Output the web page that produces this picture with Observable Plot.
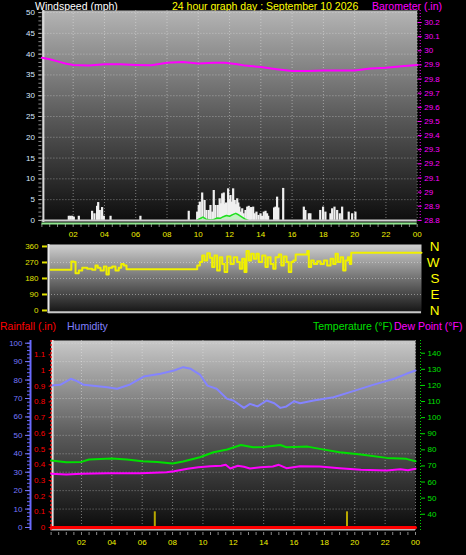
<!DOCTYPE html>
<html><head><meta charset="utf-8">
<script src="https://cdn.jsdelivr.net/npm/d3@7"></script>
<script src="https://cdn.jsdelivr.net/npm/@observablehq/plot@0.6"></script>
<style>
html,body{margin:0;padding:0;background:#000;}
#wrap{position:relative;width:466px;height:555px;overflow:hidden;background:#000;font-family:"Liberation Sans",Arial,sans-serif;}
.lbl{position:absolute;font-size:10.5px;white-space:nowrap;line-height:1;}
</style></head><body>
<svg width="0" height="0" style="position:absolute"><defs>
<linearGradient id="g1" x1="0" y1="0" x2="0" y2="1"><stop offset="0" stop-color="#b4b4b4"/><stop offset="0.5" stop-color="#5a5a5a"/><stop offset="1" stop-color="#0c0c0c"/></linearGradient>
<linearGradient id="g2" x1="0" y1="0" x2="0" y2="1"><stop offset="0" stop-color="#cfcfcf"/><stop offset="1" stop-color="#121212"/></linearGradient>
<linearGradient id="g3" x1="0" y1="0" x2="0" y2="1"><stop offset="0" stop-color="#c8c8c8"/><stop offset="0.5" stop-color="#5a5a5a"/><stop offset="1" stop-color="#0a0a0a"/></linearGradient>
</defs></svg>
<div id="wrap">
  <div class="lbl" style="left:35px;top:1px;color:#ffffff">Windspeed (mph)</div>
  <div class="lbl" style="left:172px;top:1px;color:#ffff00">24 hour graph day : September 10 2026</div>
  <div class="lbl" style="left:372px;top:1px;color:#ff00ff">Barometer (.in)</div>
  <div class="lbl" style="left:0px;top:321px;color:#ff0000">Rainfall (.in)</div>
  <div class="lbl" style="left:67px;top:321px;color:#8080ff">Humidity</div>
  <div class="lbl" style="left:313px;top:321px;color:#00e000">Temperature (°F)</div>
  <div class="lbl" style="left:394px;top:321px;color:#ff00ff">Dew Point (°F)</div>
</div>
<script>
// ---------- DATA ----------
const gustHours = [1.72,1.83,1.94,2.04,2.36,3.21,3.36,3.53,3.6,3.7,3.85,3.96,4.39,6.3,9.39,9.93,10.03,10.1,10.25,10.4,10.52,10.67,10.78,10.9,10.99,11.1,11.25,11.37,11.45,11.53,11.63,11.7,11.78,11.91,11.98,12.06,12.15,12.23,12.33,12.41,12.49,12.56,12.63,12.72,12.81,12.9,13.02,13.13,13.23,13.3,13.38,13.51,13.6,13.72,13.85,13.98,14.08,14.19,14.3,14.4,14.47,14.85,14.94,15.04,15.12,15.43,16.75,16.85,17.07,17.17,17.8,17.98,18.13,18.45,18.56,18.71,18.88,19.05,19.2,19.62,19.84,20.05];
const gustMph   = [1.0,1.0,1.0,0.8,1.0,2.2,1.6,3.4,4.3,2.4,3.1,1.0,1.0,1.0,2.2,2.0,3.6,4.4,6.6,4.8,2.4,2.4,3.6,2.0,7.2,3.6,3.6,5.2,4.0,6.4,6.6,3.8,4.2,7.6,5.0,6.0,4.4,7.6,4.8,3.8,5.2,4.2,3.2,2.0,2.8,1.6,2.4,3.2,3.4,2.8,3.1,3.2,1.6,2.0,1.2,1.6,1.0,2.0,2.2,1.6,1.0,3.0,3.2,5.6,3.0,7.7,3.2,2.4,1.6,1.6,2.4,3.2,2.0,1.6,2.8,3.2,2.4,1.6,3.2,2.0,1.6,2.0];
const avgHours = [9.9,10.1,10.3,10.5,10.8,11.0,11.2,11.4,11.6,11.8,12.0,12.2,12.4,12.6,12.8,13.0,13.2];
const avgMph   = [0,0.4,0.8,0.3,0.1,0.2,0.6,0.5,0.9,1.2,1.0,1.4,1.7,1.3,0.8,0.3,0];
const baroHours = [0,0.5,1,1.5,2,3,4,5,6,7,8,9,10,11,11.7,12.5,13,14,15,16,17,18,19,20,21,22,23,24];
const baroInHg  = [29.95,29.94,29.925,29.91,29.90,29.895,29.905,29.905,29.90,29.897,29.915,29.92,29.91,29.915,29.915,29.905,29.895,29.885,29.87,29.857,29.857,29.86,29.86,29.86,29.875,29.88,29.89,29.90];
const dirHours = [0.13,1.4,1.47,1.63,1.74,1.95,2.17,2.49,2.81,3.02,3.17,3.35,3.56,3.73,3.88,4.1,4.31,4.52,4.68,4.85,5.02,9.35,9.57,9.74,9.89,10.04,10.21,10.38,10.53,10.68,10.85,11.02,11.18,11.33,11.5,11.71,11.92,12.14,12.31,12.46,12.61,12.74,12.89,13.04,13.21,13.38,13.53,13.75,13.96,14.11,14.29,14.46,14.61,14.82,14.98,15.14,15.32,15.46,15.62,15.75,15.9,16.54,16.65,16.75,16.9,17.07,17.29,17.5,17.72,17.93,18.15,18.32,18.47,18.62,18.79,18.96,19.11,19.26,19.39,19.48,24];
const dirDeg   = [229,229,276,272,210,225,240,234,229,253,240,225,247,202,240,247,225,240,262,253,232,232,253,272,309,281,322,296,244,309,225,300,262,216,304,262,300,272,234,291,216,334,281,319,291,319,272,309,244,300,262,234,300,315,253,304,272,216,272,281,315,315,334,244,281,262,277,262,281,253,291,262,319,272,300,225,281,300,262,324,324];
const compassLabels = ["N","W","S","E","N"];
const compassDeg    = [360,270,180,90,0];
const humHours = [0,0.6,1.3,1.7,2.15,3.7,4.35,5.2,6.1,7.2,8.1,8.7,9.2,9.8,10.3,10.9,11.6,12,12.7,13.1,13.6,14.2,14.7,15.1,15.5,16,16.4,17.3,18.6,19.9,21.2,22.6,23.4,24];
const humPct   = [77,77.4,80.7,79.4,77.4,76.1,75.3,77.6,81.9,83.4,85.2,87,86.1,83,77,75.3,69.8,68.9,64.9,67.1,65.7,68.9,67.4,64.9,65.7,68.5,67.4,68.9,70.7,74,77.4,80.7,83.4,85.2];
const tempHours = [0,1,2,2.5,4,5,6,7,8,8.7,9.8,10.7,11.6,12.5,13.3,14,15.1,15.5,16.9,17.7,19,20.4,22.1,23.4,24];
const tempF     = [73.4,72.3,72.5,74,74.6,74,72.9,72.5,71.5,72.7,75.4,78.5,80.2,83,81.6,81.8,83,81.6,82,80.6,78.5,77.1,75,74.4,72.9];
const dewHours = [0,1,2,3.7,5.9,7.6,8.1,9,9.7,10.5,11.2,11.5,11.8,12.3,12.7,13.1,13.8,14.6,15,15.5,16.4,17.7,19,20.4,22.1,23,23.5,24];
const dewF     = [65.1,64.7,65.2,65.5,65.5,66.1,66.7,68.2,69.2,69.8,70.1,70.7,68.4,70.1,69.5,68.4,69.2,69.6,70.7,68.6,69.8,69.6,68.6,67.6,67.1,68,67.3,68.2];
const rainHours = [0,24];
const rainIn    = [0,0];
const sunEventHours = [6.83,19.49];
const sunEventMarkIn = [0.1,0.1];
const hourTicks = [2,4,6,8,10,12,14,16,18,20,22,24];
const windTicks = [0,5,10,15,20,25,30,35,40,45,50];
const baroTicks = [28.8,28.9,29,29.1,29.2,29.3,29.4,29.5,29.6,29.7,29.8,29.9,30,30.1,30.2];
const dirTicks = [0,90,180,270,360];
const humTicks = [0,10,20,30,40,50,60,70,80,90,100];
const rainTicks = [0,0.1,0.2,0.3,0.4,0.5,0.6,0.7,0.8,0.9,1,1.1];
const tempTicks = [40,50,60,70,80,90,100,110,120,130,140];

// ---------- TABLES ----------
const zip = (a, b, ka, kb) => a.map((v, i) => ({[ka]: v, [kb]: b[i]}));
const gusts = zip(gustHours, gustMph, "hour", "mph");
const avgWind = zip(avgHours, avgMph, "hour", "mph");
const baro = zip(baroHours, baroInHg, "hour", "v");
const dir = zip(dirHours, dirDeg, "hour", "deg");
const compass = zip(compassLabels, compassDeg, "label", "deg");
const hum = zip(humHours, humPct, "hour", "v");
const temp = zip(tempHours, tempF, "hour", "v");
const dew = zip(dewHours, dewF, "hour", "v");
const rain = zip(rainHours, rainIn, "hour", "v");
const sun = zip(sunEventHours, sunEventMarkIn, "hour", "v");

// ---------- DRAW ----------
const W = 466, H = 555;
const wrap = document.getElementById("wrap");
const fmtHour = d => String(d % 24).padStart(2, "0");
const fmt1 = d => String(+(+d).toFixed(1));
const none = () => "";
const halfTicks = d3.range(0, 48.5, 1).map(d => d / 2);
const grid = {stroke: "#eeeeee", strokeOpacity: 0.45, strokeDasharray: "1,2"};
function layer(o) {
  const svg = Plot.plot(Object.assign({
    width: W, height: H,
    style: {background: "transparent", fontFamily: "'Liberation Sans', Arial, sans-serif", fontSize: "8px", overflow: "visible"}
  }, o));
  svg.style.position = "absolute"; svg.style.left = "0px"; svg.style.top = "0px";
  wrap.appendChild(svg);
}
const m1 = {marginLeft: 41.4, marginRight: 49.3, marginTop: 10, marginBottom: 333};
const m2 = {marginLeft: 48, marginRight: 45, marginTop: 244, marginBottom: 242};
const m3 = {marginLeft: 50.6, marginRight: 51, marginTop: 340, marginBottom: 25};

// Panel 1: wind speed
layer({...m1,
  x: {domain: [0, 24], label: null},
  y: {domain: [-0.5, 50.5], label: null},
  marks: [
    Plot.frame({fill: "url(#g1)"}),
    Plot.gridY(windTicks.slice(1), grid),
    Plot.gridX(hourTicks, grid),
    Plot.axisY(d3.range(0, 51), {tickSize: 3, color: "#8a8a8a", tickFormat: none}),
    Plot.axisY(windTicks, {tickSize: 3, tickPadding: 4, stroke: "#b0b0b0", fill: "#d8e8ff"}),
    Plot.axisX(halfTicks, {tickSize: 3, color: "#8a8a8a", tickFormat: none, dy: 2}),
    Plot.axisX(hourTicks, {tickSize: 0, tickPadding: 9, fill: "#f0f000", tickFormat: fmtHour}),
    Plot.ruleX([0], {stroke: "#d8d8d8", strokeWidth: 2, dx: 1.5}),
    Plot.ruleX(gusts, {x: "hour", y1: 0, y2: "mph", stroke: "#f0f0f0", strokeWidth: 2.2}),
    Plot.areaY(avgWind, {x: "hour", y: "mph", fill: "#b8f0b8", fillOpacity: 0.8}),
    Plot.line(avgWind, {x: "hour", y: "mph", stroke: "#20e020", strokeWidth: 1.5}),
    Plot.ruleY([0], {stroke: "#d0d0d0", strokeWidth: 2}),
    Plot.ruleY([0], {stroke: "#90e890", strokeWidth: 2, dy: 3})
  ]
});
// Panel 1: barometer
layer({...m1,
  x: {domain: [0, 24], axis: null, label: null},
  y: {domain: [28.785, 30.285], label: null},
  marks: [
    Plot.axisY(baroTicks, {anchor: "right", tickSize: 4, tickPadding: 3, color: "#ff00ff", tickFormat: fmt1}),
    Plot.ruleX([24], {stroke: "#ff00ff", strokeDasharray: "1,2", dx: 3}),
    Plot.line(baro, {x: "hour", y: "v", stroke: "#ff00ff", strokeWidth: 2})
  ]
});
// Panel 2: wind direction
layer({...m2,
  x: {domain: [0, 24], axis: null, label: null},
  y: {domain: [-17, 371], label: null},
  marks: [
    Plot.frame({fill: "url(#g2)"}),
    Plot.gridY([90, 180, 270], grid),
    Plot.axisY(dirTicks, {tickSize: 5, tickPadding: 4, dx: -1, color: "#e0e000", strokeWidth: 2}),
    Plot.ruleX([0], {stroke: "#e8e8e8", strokeWidth: 2}),
    Plot.ruleY([-10], {stroke: "#c8c8c8", strokeWidth: 2}),
    Plot.line(dir, {x: "hour", y: "deg", stroke: "#f0f000", strokeWidth: 2, curve: "step-after"}),
    Plot.text(compass, {y: "deg", text: "label", frameAnchor: "right", dx: 18, fill: "#ffff00", fontSize: 13.5})
  ]
});
// Panel 3: humidity (with frame, grid, x axis)
layer({...m3,
  x: {domain: [0, 24], label: null},
  y: {domain: [-1.63, 101.47], label: null},
  marks: [
    Plot.frame({fill: "url(#g3)"}),
    Plot.gridY(humTicks.slice(1), grid),
    Plot.gridX(hourTicks, grid),
    Plot.axisX(halfTicks, {tickSize: 3, color: "#8a8a8a", tickFormat: none, dy: 2}),
    Plot.axisX(hourTicks, {tickSize: 0, tickPadding: 9, fill: "#f0f000", tickFormat: fmtHour}),
    Plot.ruleX([0], {stroke: "#e0e0e0", strokeWidth: 2, dx: 1.5}),
    Plot.ruleY([-1.63], {stroke: "#b8b8b8", strokeWidth: 2, dy: -1}),
    Plot.axisY(d3.range(0, 101, 2), {dx: -20.6, tickSize: 3, color: "#6a6aff", tickFormat: none}),
    Plot.axisY(humTicks, {dx: -20.6, tickSize: 5, tickPadding: 3, color: "#7878ff"}),
    Plot.ruleX([0], {dx: -20.6, stroke: "#6a6aff", strokeWidth: 2}),
    Plot.line(hum, {x: "hour", y: "v", stroke: "#8484ff", strokeWidth: 2})
  ]
});
// Panel 3: rainfall
layer({...m3,
  x: {domain: [0, 24], axis: null, label: null},
  y: {domain: [-0.019, 1.191], label: null},
  marks: [
    Plot.axisY(rainTicks, {tickSize: 2, tickPadding: 4, color: "#ff0000", tickFormat: fmt1}),
    Plot.ruleX([0], {stroke: "#ff2020", strokeDasharray: "2,2", strokeWidth: 1.5}),
    Plot.ruleX(sun, {x: "hour", y1: 0, y2: "v", stroke: "#b8a800", strokeWidth: 2}),
    Plot.line(rain, {x: "hour", y: "v", stroke: "#ff0000", strokeWidth: 3})
  ]
});
// Panel 3: temperature & dew point
layer({...m3,
  x: {domain: [0, 24], axis: null, label: null},
  y: {domain: [29.9, 147.9], label: null},
  marks: [
    Plot.axisY(tempTicks, {anchor: "right", dx: 5, tickSize: 4, tickPadding: 3, color: "#00e000"}),
    Plot.ruleX([24], {dx: 5, stroke: "#00d000", strokeDasharray: "1,2"}),
    Plot.line(temp, {x: "hour", y: "v", stroke: "#00e000", strokeWidth: 2}),
    Plot.line(dew, {x: "hour", y: "v", stroke: "#ff00ff", strokeWidth: 2})
  ]
});
</script>
</body></html>
